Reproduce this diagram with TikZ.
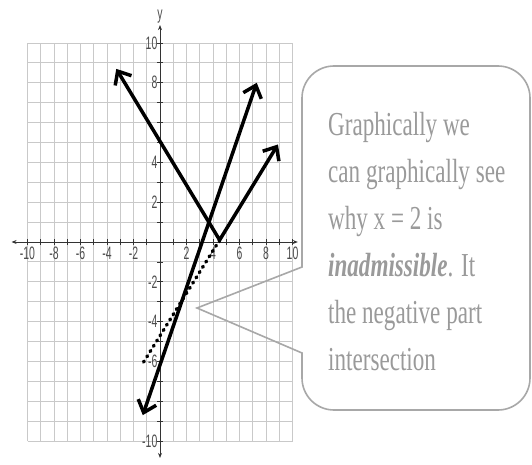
\documentclass[tikz,border=0pt]{standalone}
\usepackage{fontspec}
\setmainfont{Liberation Serif}
\setsansfont{Liberation Sans}
\usetikzlibrary{arrows.meta}
\definecolor{GridGray}{HTML}{C9C9C9}
\definecolor{NoteGray}{HTML}{9A9A9A}
\definecolor{EdgeGray}{HTML}{A8A8A8}
\tikzset{
  gridline/.style={draw=GridGray, line width=0.9pt},
  axis/.style={draw=black!80, line width=0.9pt,
    {Stealth[length=5pt,width=4pt]}-{Stealth[length=5pt,width=4pt]}},
  tickmark/.style={draw=black!80, line width=0.8pt},
  ticklabel/.style={font=\sffamily\fontsize{18}{18}\selectfont,
    text=black!70, inner sep=1pt, xscale=0.58},
  graph/.style={line width=3.5pt, line join=miter,
    {Straight Barb[length=11pt,width=19pt]}-{Straight Barb[length=11pt,width=19pt]}},
  negpart/.style={line width=3.4pt, line cap=round, dash pattern=on 1.2pt off 5pt},
  callout/.style={draw=EdgeGray, line width=1.6pt},
  note/.style={font=\fontsize{33.5}{47}\selectfont, text=NoteGray,
    align=left, xscale=0.69, inner sep=0pt}
}

\begin{document}
\begin{tikzpicture}[x=1pt,y=1pt]
  \fill[white] (0,0) rectangle (532,-465);
  \useasboundingbox (0,0) rectangle (532,-465);
  \begin{scope}[shift={(160,-242)}, x=13.25pt, y=19.9pt]
    \foreach \i in {-10,...,10} {
      \draw[gridline] (\i,-10) -- (\i,10);
      \draw[gridline] (-10,\i) -- (10,\i);
    }
    \draw[axis] (-11.2,0) -- (10.4,0);
    \draw[axis] (0,-10.85) -- (0,10.9);
    \foreach \i in {-10,...,10} {
      \draw[tickmark] (\i,-0.13) -- (\i,0.13);
      \draw[tickmark] (-0.2,\i) -- (0.2,\i);
    }
    \foreach \i in {-10,-8,-6,-4,-2,2,4,6,8,10}
      \node[ticklabel, anchor=north] (xl\i) at (\i,-0.2) {\i};
    \foreach \i in {10,8,4,2,-2,-4,-6,-10}
      \node[ticklabel, anchor=east] (yl\i) at (-0.15,\i) {\i};
    \node[ticklabel, anchor=south] (ylab) at (0,10.95) {y};
    % the two graphs and the dropped part
    \coordinate (ltip) at (-3.3,8.7);
    \coordinate (vtx) at (4.5,0.1);
    \coordinate (rtip) at (8.9,4.9);
    \coordinate (btip) at (-1.3,-8.7);
    \coordinate (ttip) at (7.3,8.0);
    \coordinate (dend) at (-1.3,-6.1);
    \draw[negpart] (vtx) -- (dend);
    \draw[graph] (ltip) -- (vtx) -- (rtip);
    \draw[graph] (btip) -- (ttip);
  \end{scope}
  \draw[callout] (302,-267) -- (197,-308) -- (302,-353) -- (302,-378)
    arc[start angle=180,end angle=270,radius=32] -- (498,-410)
    arc[start angle=270,end angle=360,radius=32] -- (530,-98)
    arc[start angle=0,end angle=90,radius=32] -- (334,-66)
    arc[start angle=90,end angle=180,radius=32] -- cycle;
  \node[note, anchor=north west] (msg) at (328,-112)
    {Graphically we\\can graphically see\\why x = 2 is\\
     \textbf{\textit{inadmissible}}. It\\the negative part\\intersection};
\end{tikzpicture}
\end{document}
